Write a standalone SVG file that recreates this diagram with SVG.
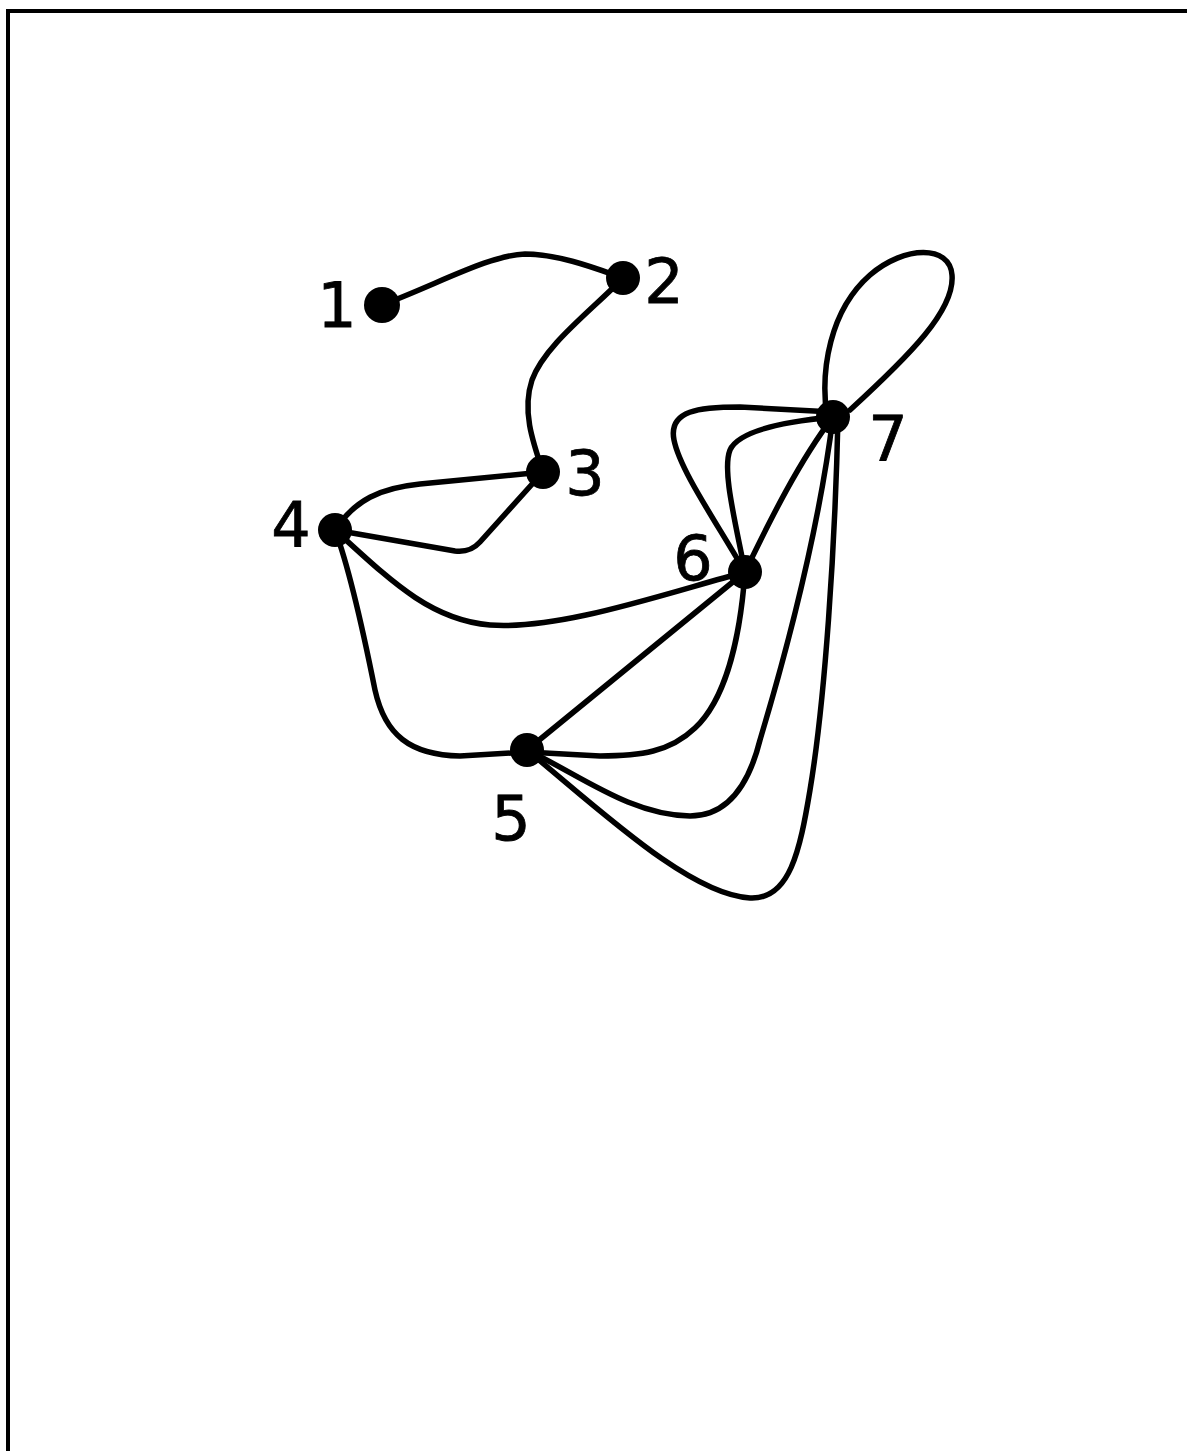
<svg xmlns="http://www.w3.org/2000/svg" width="1187" height="1451" viewBox="0 0 1187 1451">
<style>
.edge{fill:none;stroke:#000;stroke-width:5.5;stroke-linecap:round;stroke-linejoin:round}
.node{fill:#000}
.lbl{font-family:"DejaVu Sans","Liberation Sans",sans-serif;font-size:62px;fill:#000;text-anchor:middle;stroke:#000;stroke-width:0.8}
</style>
<rect width="1187" height="1451" fill="#fff"/>
<path d="M8,1451 L8,11 L1187,11" fill="none" stroke="#000" stroke-width="4"/>
<g id="connectors">
<path class="edge" d="M382,305 C 440,283 490,255 525,254 C 560,254 600,270 623,278"/>
<path class="edge" d="M623,278 C 590,312 545,345 532,380 C 522,410 532,440 543,472"/>
<path class="edge" d="M543,472 L 420,484 C 380,488 355,500 335,530"/>
<path class="edge" d="M543,472 L 480,542 Q 470,553 455,551 L 335,530"/>
<path class="edge" d="M335,530 C 390,580 430,620 490,625 C 560,630 660,595 745,572"/>
<path class="edge" d="M335,530 C 350,570 365,640 375,690 C 385,735 410,755 460,756 L 527,752"/>
<path class="edge" d="M527,750 L 745,572"/>
<path class="edge" d="M745,572 C 740,640 725,700 695,728 C 670,752 640,756 600,756 L 527,752"/>
<path class="edge" d="M527,750 C 580,775 630,815 690,816 C 730,816 750,780 760,740 C 790,640 820,520 833,417"/>
<path class="edge" d="M527,750 C 600,810 690,895 750,898 C 790,900 800,850 810,790 C 825,700 835,550 838,417"/>
<path class="edge" d="M745,572 C 770,520 800,460 833,417"/>
<path class="edge" d="M745,572 C 735,520 722,470 730,450 C 738,432 780,422 833,417"/>
<path class="edge" d="M745,572 C 715,520 680,470 674,440 C 668,410 700,407 740,407 L 833,412"/>
<path class="edge" d="M827,417 C 820,370 830,310 870,275 C 905,245 950,245 952,275 C 955,310 910,355 850,410"/>
</g>
<g id="node1"><circle class="node" cx="382" cy="305" r="18"/><text class="lbl" x="337" y="327">1</text></g>
<g id="node2"><circle class="node" cx="623" cy="278" r="17"/><text class="lbl" x="664" y="303">2</text></g>
<g id="node3"><circle class="node" cx="543" cy="472" r="17"/><text class="lbl" x="585" y="495">3</text></g>
<g id="node4"><circle class="node" cx="335" cy="530" r="17"/><text class="lbl" x="291" y="547">4</text></g>
<g id="node5"><circle class="node" cx="527" cy="750" r="17"/><text class="lbl" x="511" y="840">5</text></g>
<g id="node6"><circle class="node" cx="745" cy="572" r="17"/><text class="lbl" x="693" y="580">6</text></g>
<g id="node7"><circle class="node" cx="833" cy="417" r="17"/><text class="lbl" x="888" y="460">7</text></g>
</svg>
